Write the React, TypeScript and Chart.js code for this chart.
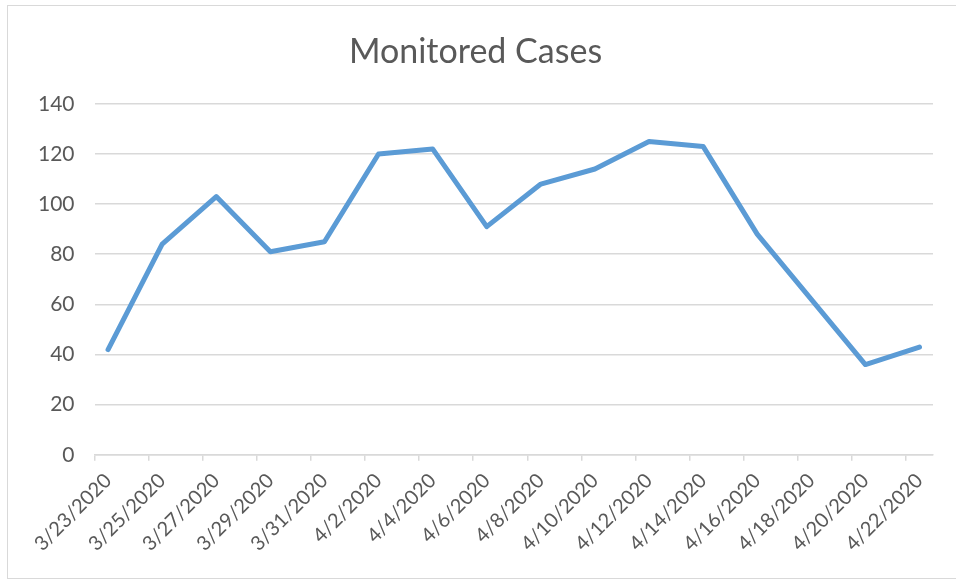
import React, { useEffect, useRef } from "react";
import { Chart, registerables } from "chart.js";

Chart.register(...registerables);

const title = "Monitored Cases";
const dateLabels = [
  "3/23/2020", "3/25/2020", "3/27/2020", "3/29/2020", "3/31/2020", "4/2/2020",
  "4/4/2020", "4/6/2020", "4/8/2020", "4/10/2020", "4/12/2020", "4/14/2020",
  "4/16/2020", "4/18/2020", "4/20/2020", "4/22/2020",
];
const cases = [42, 84, 103, 81, 85, 120, 122, 91, 108, 114, 125, 123, 88, 62, 36, 43];
const yTicks = [0, 20, 40, 60, 80, 100, 120, 140];
const lastDay = "4/22/2020";

const DAY = 86400000;
const dayIndex = (s: string) => Math.round((Date.parse(s) - Date.parse(dateLabels[0])) / DAY);

export default function App() {
  const ref = useRef<HTMLCanvasElement>(null);
  useEffect(() => {
    if (!ref.current) return;
    const days = dateLabels.map(dayIndex);
    const span = dayIndex(lastDay);
    const gray = "#d9d9d9";
    const text = "#595959";
    const chart = new Chart(ref.current, {
      type: "line",
      data: {
        datasets: [
          {
            label: title,
            data: days.map((d, i) => ({ x: d, y: cases[i] })),
            borderColor: "#5B9BD5",
            borderWidth: 5,
            pointRadius: 0,
            tension: 0,
            borderJoinStyle: "round",
            borderCapStyle: "round",
          },
        ],
      },
      options: {
        animation: false,
        responsive: false,
        layout: { padding: { left: 10, right: 23, top: 0, bottom: 14 } },
        plugins: {
          legend: { display: false },
          tooltip: { enabled: false },
          title: {
            display: true,
            text: title,
            color: text,
            font: { family: "Lato", size: 34, weight: "normal" },
            padding: { top: 26, bottom: 31 },
          },
        },
        scales: {
          x: {
            type: "linear",
            min: -0.5,
            max: span + 0.5,
            afterBuildTicks: (scale: any) => {
              scale.ticks = days.map((d) => ({ value: d - 0.5 }));
            },
            ticks: {
              autoSkip: false,
              minRotation: 45,
              maxRotation: 45,
              labelOffset: 13.5,
              padding: 8,
              color: text,
              font: { family: "Lato", size: 20 },
              callback: (_v: any, i: number) => dateLabels[i],
            },
            grid: {
              drawOnChartArea: false,
              drawTicks: true,
              tickLength: 6,
              color: gray,
              tickColor: gray,
              lineWidth: 1.5,
            },
            border: { display: true, color: gray, width: 1.5 },
          },
          y: {
            min: 0,
            max: 140,
            afterBuildTicks: (scale: any) => {
              scale.ticks = yTicks.map((v) => ({ value: v }));
            },
            ticks: {
              color: text,
              padding: 20,
              font: { family: "Lato", size: 21 },
            },
            grid: { color: gray, lineWidth: 1.5, drawTicks: false },
            border: { display: false },
          },
        },
      },
    } as any);
    return () => chart.destroy();
  }, []);
  return (
    <div
      style={{
        position: "fixed",
        left: 7,
        top: 5,
        width: 949,
        height: 574,
        borderTop: "1px solid #d9d9d9",
        borderLeft: "1px solid #d9d9d9",
        borderBottom: "1px solid #d9d9d9",
        boxSizing: "border-box",
        background: "#fff",
      }}
    >
      <canvas ref={ref} width={948} height={572} style={{ display: "block" }} />
    </div>
  );
}
